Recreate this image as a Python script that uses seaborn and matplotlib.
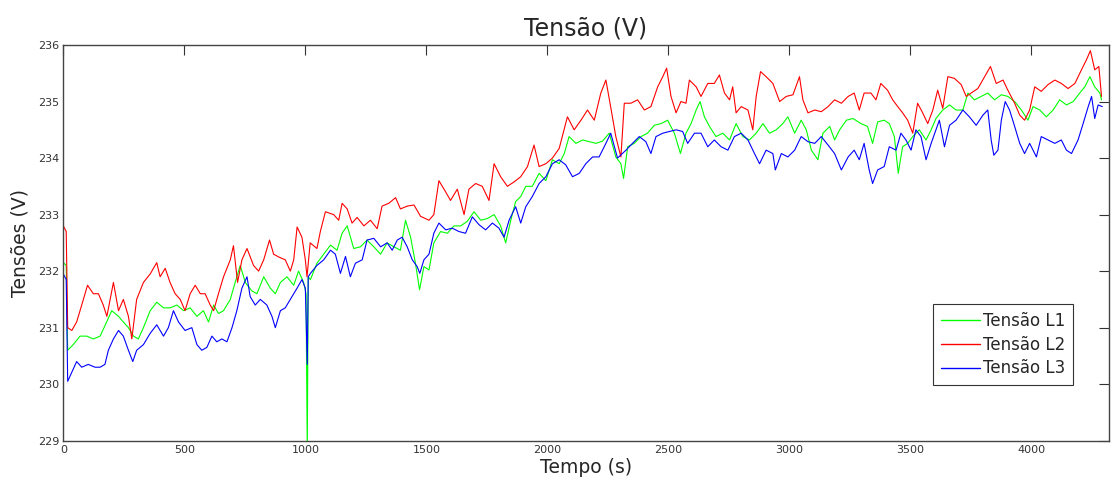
import numpy as np
import pandas as pd
import matplotlib
matplotlib.use("Agg")
import matplotlib.pyplot as plt
import seaborn as sns
from matplotlib.lines import Line2D

# ---- data ----
t_l1 = [0, 12, 18, 41, 69, 97, 124, 152, 179, 200, 228, 248, 269, 290, 310, 331, 359, 386, 414, 441,
        469, 497, 524, 552, 579, 600, 621, 641, 662, 690, 710, 731, 752, 779, 800, 828, 855, 876, 897, 924,
        952, 972, 993, 1003, 1008, 1012, 1021, 1048, 1076, 1104, 1131, 1152, 1173, 1200, 1228, 1255, 1283,
        1311, 1338, 1366, 1393, 1414, 1435, 1455, 1472, 1490, 1511, 1531, 1559, 1587, 1614, 1642, 1669,
        1697, 1725, 1752, 1780, 1807, 1828, 1849, 1869, 1890, 1911, 1938, 1966, 1994, 2021, 2049, 2070,
        2090, 2118, 2146, 2173, 2201, 2228, 2256, 2283, 2304, 2315, 2332, 2359, 2387, 2414, 2442, 2470,
        2497, 2525, 2550, 2573, 2594, 2615, 2631, 2649, 2670, 2697, 2725, 2753, 2780, 2808, 2835, 2863,
        2891, 2918, 2946, 2973, 2994, 3022, 3049, 3070, 3091, 3118, 3139, 3167, 3187, 3208, 3236, 3263,
        3296, 3323, 3344, 3365, 3392, 3413, 3434, 3450, 3468, 3489, 3510, 3537, 3565, 3586, 3606, 3634,
        3662, 3689, 3717, 3738, 3765, 3793, 3820, 3848, 3876, 3903, 3931, 3959, 3986, 4007, 4035, 4062,
        4090, 4117, 4145, 4173, 4200, 4221, 4242, 4262, 4283, 4290]
v_l1 = [232.15, 232.1, 230.6, 230.7, 230.85, 230.85, 230.8, 230.85, 231.1, 231.3, 231.2, 231.1, 231.0,
        230.85, 230.8, 231.0, 231.3, 231.45, 231.35, 231.35, 231.4, 231.3, 231.35, 231.2, 231.3, 231.1,
        231.4, 231.25, 231.3, 231.5, 231.8, 232.1, 231.8, 231.65, 231.6, 231.9, 231.7, 231.6, 231.8, 231.9,
        231.75, 232.0, 231.8, 231.6, 228.8, 231.9, 231.85, 232.14, 232.3, 232.46, 232.37, 232.67, 232.8,
        232.4, 232.43, 232.55, 232.43, 232.3, 232.5, 232.43, 232.37, 232.9, 232.6, 232.14, 231.67, 232.08,
        232.02, 232.5, 232.7, 232.67, 232.8, 232.8, 232.88, 233.05, 232.9, 232.93, 233.0, 232.8, 232.5,
        232.9, 233.23, 233.32, 233.5, 233.5, 233.73, 233.6, 233.97, 233.9, 234.08, 234.38, 234.26, 234.32,
        234.29, 234.26, 234.3, 234.44, 234.02, 233.9, 233.64, 234.2, 234.26, 234.38, 234.44, 234.58,
        234.61, 234.67, 234.44, 234.08, 234.44, 234.61, 234.85, 235.0, 234.73, 234.56, 234.38, 234.44,
        234.32, 234.61, 234.38, 234.32, 234.44, 234.61, 234.44, 234.5, 234.61, 234.73, 234.44, 234.67,
        234.5, 234.14, 233.97, 234.44, 234.56, 234.32, 234.5, 234.67, 234.7, 234.61, 234.56, 234.26,
        234.64, 234.67, 234.61, 234.38, 233.73, 234.2, 234.26, 234.38, 234.5, 234.32, 234.5, 234.7,
        234.85, 234.94, 234.85, 234.85, 235.15, 235.03, 235.09, 235.15, 235.03, 235.12, 235.09, 235.0,
        234.85, 234.67, 234.91, 234.85, 234.73, 234.85, 235.03, 234.94, 235.0, 235.15, 235.26, 235.44,
        235.26, 235.15, 235.03]

t_l2 = [0, 12, 18, 35, 55, 76, 100, 124, 145, 165, 180, 207, 228, 248, 269, 283, 303, 331, 359, 386,
        400, 421, 441, 462, 483, 503, 524, 545, 566, 586, 607, 621, 641, 662, 690, 703, 720, 738, 759, 786,
        807, 828, 852, 869, 890, 917, 938, 952, 966, 986, 1000, 1007, 1020, 1048, 1062, 1083, 1117, 1138,
        1152, 1173, 1193, 1214, 1242, 1269, 1297, 1317, 1345, 1373, 1393, 1421, 1449, 1476, 1511, 1531,
        1552, 1580, 1600, 1628, 1656, 1676, 1704, 1731, 1759, 1780, 1807, 1835, 1863, 1890, 1918, 1945,
        1966, 1994, 2021, 2049, 2083, 2111, 2139, 2166, 2194, 2221, 2242, 2262, 2283, 2304, 2318, 2345,
        2373, 2401, 2428, 2456, 2477, 2493, 2511, 2532, 2552, 2573, 2587, 2615, 2635, 2663, 2690, 2711,
        2732, 2753, 2766, 2780, 2801, 2829, 2849, 2863, 2881, 2904, 2932, 2960, 2987, 3015, 3042, 3056,
        3077, 3105, 3132, 3160, 3187, 3215, 3243, 3268, 3289, 3309, 3337, 3358, 3378, 3406, 3427, 3448,
        3468, 3489, 3510, 3530, 3551, 3572, 3593, 3613, 3634, 3655, 3682, 3710, 3731, 3751, 3779, 3807,
        3831, 3855, 3883, 3903, 3931, 3952, 3972, 3993, 4014, 4041, 4069, 4097, 4124, 4152, 4180, 4207,
        4228, 4244, 4262, 4279, 4290]
v_l2 = [232.8, 232.7, 231.0, 230.95, 231.1, 231.4, 231.75, 231.6, 231.6, 231.4, 231.2, 231.8, 231.3,
        231.5, 231.2, 230.8, 231.5, 231.8, 231.95, 232.15, 231.9, 232.05, 231.8, 231.6, 231.5, 231.3,
        231.6, 231.75, 231.6, 231.6, 231.4, 231.3, 231.6, 231.9, 232.2, 232.45, 231.8, 232.2, 232.4,
        232.1, 232.0, 232.2, 232.55, 232.3, 232.25, 232.2, 232.0, 232.2, 232.78, 232.6, 232.2, 231.9,
        232.5, 232.4, 232.7, 233.05, 233.0, 232.9, 233.2, 233.1, 232.85, 232.95, 232.8, 232.9, 232.75,
        233.15, 233.2, 233.3, 233.1, 233.15, 233.17, 232.97, 232.9, 233.0, 233.6, 233.4, 233.25, 233.45,
        233.0, 233.45, 233.55, 233.5, 233.25, 233.9, 233.67, 233.5, 233.58, 233.67, 233.85, 234.23,
        233.85, 233.9, 234.0, 234.17, 234.73, 234.5, 234.67, 234.85, 234.67, 235.15, 235.38, 234.9,
        234.38, 234.02, 234.97, 234.97, 235.03, 234.85, 234.91, 235.26, 235.44, 235.59, 235.09, 234.8,
        235.0, 234.97, 235.38, 235.26, 235.09, 235.32, 235.32, 235.47, 235.15, 235.03, 235.26, 234.8,
        234.91, 234.85, 234.5, 235.09, 235.53, 235.44, 235.32, 235.0, 235.09, 235.12, 235.44, 235.03,
        234.8, 234.85, 234.82, 234.91, 235.03, 234.97, 235.09, 235.15, 234.85, 235.15, 235.15, 235.03,
        235.32, 235.2, 235.03, 234.91, 234.8, 234.67, 234.44, 234.97, 234.8, 234.61, 234.85, 235.2,
        234.88, 235.44, 235.41, 235.3, 235.09, 235.15, 235.23, 235.44, 235.62, 235.32, 235.38, 235.2,
        234.97, 234.76, 234.67, 234.85, 235.26, 235.18, 235.3, 235.38, 235.32, 235.23, 235.32, 235.56,
        235.74, 235.9, 235.56, 235.62, 235.09]

t_l3 = [0, 12, 18, 34, 55, 76, 103, 131, 152, 172, 186, 207, 228, 248, 269, 287, 303, 331, 359, 386,
        414, 434, 455, 476, 503, 531, 552, 572, 593, 614, 634, 655, 676, 697, 717, 738, 759, 772, 793, 814,
        841, 862, 876, 897, 917, 938, 966, 986, 1000, 1008, 1012, 1021, 1048, 1076, 1104, 1124, 1145, 1166,
        1186, 1207, 1235, 1255, 1283, 1311, 1338, 1359, 1380, 1400, 1421, 1442, 1462, 1473, 1490, 1511,
        1531, 1552, 1580, 1607, 1635, 1662, 1690, 1718, 1745, 1773, 1800, 1821, 1842, 1869, 1890, 1911,
        1938, 1966, 1994, 2021, 2049, 2076, 2104, 2132, 2159, 2187, 2214, 2242, 2262, 2290, 2325, 2352,
        2380, 2407, 2428, 2449, 2477, 2504, 2532, 2559, 2580, 2608, 2635, 2663, 2690, 2718, 2746, 2773,
        2801, 2829, 2856, 2877, 2904, 2932, 2942, 2967, 2994, 3022, 3049, 3077, 3105, 3132, 3160, 3187,
        3215, 3243, 3268, 3289, 3309, 3330, 3344, 3365, 3392, 3413, 3441, 3461, 3482, 3503, 3523, 3544,
        3565, 3586, 3606, 3620, 3641, 3662, 3689, 3717, 3744, 3772, 3800, 3820, 3834, 3845, 3862, 3876,
        3892, 3910, 3931, 3952, 3972, 3993, 4021, 4041, 4069, 4097, 4124, 4145, 4166, 4193, 4214, 4235,
        4249, 4262, 4276, 4293]
v_l3 = [231.95, 231.85, 230.05, 230.2, 230.4, 230.3, 230.35, 230.3, 230.3, 230.35, 230.6, 230.8, 230.95,
        230.85, 230.6, 230.4, 230.6, 230.7, 230.9, 231.05, 230.85, 231.0, 231.3, 231.1, 230.95, 231.0,
        230.7, 230.6, 230.65, 230.85, 230.75, 230.8, 230.75, 231.0, 231.3, 231.7, 231.9, 231.55, 231.4,
        231.5, 231.4, 231.2, 231.0, 231.3, 231.35, 231.5, 231.7, 231.85, 231.7, 230.35, 231.9, 231.96,
        232.1, 232.2, 232.37, 232.3, 231.96, 232.26, 231.9, 232.14, 232.2, 232.55, 232.58, 232.43, 232.5,
        232.37, 232.55, 232.6, 232.43, 232.2, 232.08, 231.96, 232.2, 232.3, 232.67, 232.85, 232.73,
        232.76, 232.7, 232.67, 232.96, 232.82, 232.73, 232.85, 232.76, 232.6, 232.9, 233.14, 232.85,
        233.14, 233.32, 233.55, 233.67, 233.9, 233.97, 233.88, 233.67, 233.73, 233.9, 234.02, 234.02,
        234.26, 234.44, 234.0, 234.14, 234.26, 234.38, 234.29, 234.08, 234.38, 234.44, 234.47, 234.5,
        234.47, 234.26, 234.44, 234.44, 234.2, 234.32, 234.2, 234.14, 234.38, 234.44, 234.32, 234.08,
        233.9, 234.14, 234.08, 233.79, 234.08, 234.02, 234.14, 234.38, 234.29, 234.26, 234.38, 234.23,
        234.08, 233.79, 234.02, 234.14, 233.97, 234.26, 233.79, 233.55, 233.79, 233.85, 234.2, 234.14,
        234.44, 234.32, 234.14, 234.5, 234.38, 233.97, 234.26, 234.5, 234.67, 234.2, 234.58, 234.67,
        234.85, 234.73, 234.58, 234.76, 234.85, 234.32, 234.05, 234.14, 234.67, 235.0, 234.85, 234.56,
        234.26, 234.08, 234.26, 234.02, 234.38, 234.32, 234.26, 234.32, 234.14, 234.08, 234.32, 234.61,
        234.91, 235.09, 234.7, 234.94, 234.91]

series_names = ["Tensão L1", "Tensão L2", "Tensão L3"]
series_colors = ["#00ff00", "#ff0000", "#0000ff"]
x_ticks = [0, 500, 1000, 1500, 2000, 2500, 3000, 3500, 4000]
y_ticks = [229, 230, 231, 232, 233, 234, 235, 236]

frames = []
for name, t, v in zip(series_names, [t_l1, t_l2, t_l3], [v_l1, v_l2, v_l3]):
    frames.append(pd.DataFrame({"Tempo": t, "Tensao": v, "Serie": name}))
df = pd.concat(frames, ignore_index=True)

sns.set_theme(style="white")
plt.rcParams['font.family'] = ['DejaVu Sans']

fig = plt.figure(figsize=(11.11, 4.86), dpi=100)
ax = fig.add_axes([0.057, 0.0932, 0.941, 0.8142])

sns.lineplot(data=df, x="Tempo", y="Tensao", hue="Serie", hue_order=series_names,
             palette=dict(zip(series_names, series_colors)), estimator=None,
             linewidth=0.8, ax=ax, legend=False)

ax.set_xlim(0, 4320)
ax.set_ylim(229, 236)
ax.set_xticks(x_ticks)
ax.set_yticks(y_ticks)
ax.tick_params(direction="in", length=7, width=0.8, top=True, right=True,
               labelsize=8, colors="#333333", pad=3)
for sp in ax.spines.values():
    sp.set_color("#444444")
    sp.set_linewidth(1.0)

ax.set_title("Tensão (V)", fontsize=17, pad=7)
ax.set_xlabel("Tempo (s)", fontsize=13.5, labelpad=2)
ax.set_ylabel("Tensões (V)", fontsize=13.5, labelpad=6)

handles = [Line2D([], [], color=c, lw=1.0) for c in series_colors]
leg = ax.legend(handles, series_names, loc="lower right", bbox_to_anchor=(0.966, 0.141),
                fontsize=12, frameon=True, fancybox=False, edgecolor="black",
                handlelength=2.35, handletextpad=0.2, borderpad=0.45, labelspacing=0.35,
                borderaxespad=0)
leg.get_frame().set_linewidth(0.8)

fig.savefig("out.png", dpi=100)
